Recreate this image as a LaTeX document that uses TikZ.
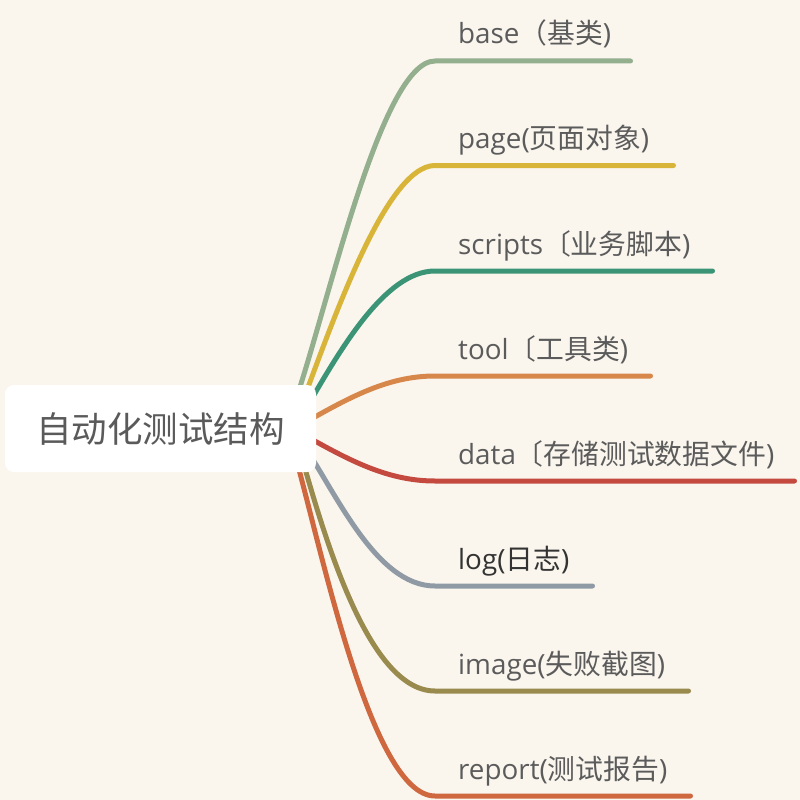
\documentclass[tikz,border=0pt]{standalone}
\usepackage{fontspec}
\setmainfont{Noto Sans CJK SC}
\newfontfamily\latf{Open Sans}
\usetikzlibrary{calc}
\definecolor{bgc}{HTML}{FAF6EE}
\definecolor{titc}{HTML}{5A5A5A}
\definecolor{labc}{HTML}{5B5B5B}
\definecolor{labdark}{HTML}{333333}
\definecolor{cbase}{HTML}{93AF8E}
\definecolor{cpage}{HTML}{D8B539}
\definecolor{cscripts}{HTML}{3C9477}
\definecolor{ctool}{HTML}{D8874B}
\definecolor{cdata}{HTML}{C44A40}
\definecolor{clog}{HTML}{8F9AA5}
\definecolor{cimage}{HTML}{998A4D}
\definecolor{creport}{HTML}{CF683F}
\pgfdeclarelayer{bg}
\pgfsetlayers{bg,main}
\begin{document}
\begin{tikzpicture}[x=1pt,y=-1pt,
  branch/.style={line width=5pt,line cap=round,line join=round},
  lab/.style={anchor=base west,inner sep=0pt,text=labc,font=\fontsize{27.8}{32}\selectfont},
  rootbox/.style={fill=white,rounded corners=9pt,minimum width=311pt,minimum height=87pt,inner sep=0pt,text=titc,font=\fontsize{35.5}{42}\selectfont}]
\useasboundingbox (0,0) rectangle (800,800);
\node[rootbox] (root) at (160.5,428.5) {自动化测试结构};
% labels
\node[lab] (l1) at (458,44) {{\latf base}（基类{\latf )}};
\node[lab] (l2) at (458,148.5) {{\latf page(}页面对象{\latf )}};
\node[lab] (l3) at (458,254) {{\latf scripts}〔业务脚本{\latf )}};
\node[lab] (l4) at (458,359) {{\latf tool}〔工具类{\latf )}};
\node[lab] (l5) at (458,464) {{\latf data}〔存储测试数据文件{\latf )}};
\node[lab,text=labdark] (l6) at (458,569) {{\latf log(}日志{\latf )}};
\node[lab] (l7) at (458,674) {{\latf image(}失败截图{\latf )}};
\node[lab] (l8) at (458,779) {{\latf report(}测试报告{\latf )}};
% start points (hidden under root)
\coordinate (r1) at ($(root.east)+(-24,-18.5)$);
\coordinate (r2) at ($(root.east)+(-16,-20.5)$);
\coordinate (r3) at ($(root.east)+(-11,-18.5)$);
\coordinate (r4) at ($(root.east)+(-21,-0.5)$);
\coordinate (r5) at ($(root.east)+(-21,1.5)$);
\coordinate (r6) at ($(root.east)+(-16,11.5)$);
\coordinate (r7) at ($(root.east)+(-18,16.5)$);
\coordinate (r8) at ($(root.east)+(-24,16.5)$);
% curve ends and line ends
\coordinate (k1) at (435,61);    \coordinate (e1) at (630.5,61);
\coordinate (k2) at (435,165.5); \coordinate (e2) at (673.5,165.5);
\coordinate (k3) at (435,271);   \coordinate (e3) at (712.5,271);
\coordinate (k4) at (435,376);   \coordinate (e4) at (650.5,376);
\coordinate (k5) at (435,481);   \coordinate (e5) at (794.5,481);
\coordinate (k6) at (435,586);   \coordinate (e6) at (592.5,586);
\coordinate (k7) at (435,691);   \coordinate (e7) at (688.5,691);
\coordinate (k8) at (435,796);   \coordinate (e8) at (690.5,796);
\begin{pgfonlayer}{bg}
\fill[bgc] (0,0) rectangle (800,800);
\draw[branch,cbase]    (r1) .. controls (325,320) and (380,61) .. (k1) -- (e1);
\draw[branch,cpage]    (r2) .. controls (330,330) and (385,165.5) .. (k2) -- (e2);
\draw[branch,cscripts] (r3) .. controls (340,350) and (385,271) .. (k3) -- (e3);
\draw[branch,ctool]    (r4) .. controls (345,400) and (385,376) .. (k4) -- (e4);
\draw[branch,cdata]    (r5) .. controls (345,458) and (385,481) .. (k5) -- (e5);
\draw[branch,clog]     (r6) .. controls (335,490) and (375,586) .. (k6) -- (e6);
\draw[branch,cimage]   (r7) .. controls (320,520) and (365,691) .. (k7) -- (e7);
\draw[branch,creport]  (r8) .. controls (320,540) and (370,796) .. (k8) -- (e8);
\end{pgfonlayer}
\end{tikzpicture}
\end{document}
